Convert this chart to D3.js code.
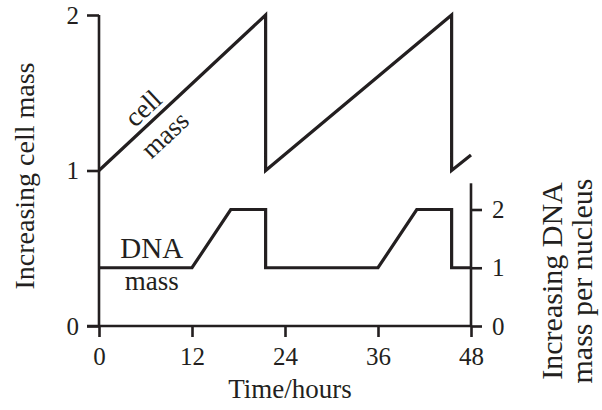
<!DOCTYPE html>
<html><head><meta charset="utf-8">
<script src="https://cdn.jsdelivr.net/npm/d3@7"></script>
<style>
body{margin:0;background:#fff;}
svg{display:block;}
</style></head>
<body>
<svg id="c" width="602" height="410"></svg>
<script>
// Data
const hourTicks = [0, 12, 24, 36, 48];
const cellTicks = [0, 1, 2];
const dnaTicks = [0, 1, 2];
const cellHours = [0, 21.5, 21.5, 45.5, 45.5, 48];
const cellMass  = [1, 2, 1, 2, 1, 1.1];
const dnaHours  = [0, 12, 17, 21.5, 21.5, 36, 41, 45.5, 45.5, 48];
const dnaMass   = [1, 1, 2, 2, 1, 1, 2, 2, 1, 1];

const FONT = "Liberation Serif, DejaVu Serif, serif";
const svg = d3.select("#c").attr("font-family", FONT);
const ink = "#231f20";
const x = d3.scaleLinear().domain([0, 48]).range([99, 471]);
const yL = d3.scaleLinear().domain([0, 2]).range([326, 15]);
const yR = d3.scaleLinear().domain([0, 2]).range([326, 209.5]);

const fs = 25;
const gL = svg.append("g").attr("transform", `translate(${x(0)},0)`)
  .call(d3.axisLeft(yL).tickValues(cellTicks).tickFormat(d3.format("d")).tickSize(12).tickPadding(8));
const gX = svg.append("g").attr("transform", `translate(0,${yL(0)})`)
  .call(d3.axisBottom(x).tickValues(hourTicks).tickSize(11).tickPadding(10));
const gR = svg.append("g").attr("transform", `translate(${x(48)},0)`)
  .call(d3.axisRight(yR).tickValues(dnaTicks).tickFormat(d3.format("d")).tickSize(11).tickPadding(10));
gR.select(".domain").remove();
gR.append("line").attr("x1",0).attr("x2",0).attr("y1",yR(2.45)).attr("y2",yR(0)).attr("stroke",ink).attr("stroke-width",2.6);

[gL, gX, gR].forEach(g => {
  g.attr("font-family", FONT).attr("font-size", fs);
  g.selectAll("text").attr("font-family", FONT).attr("font-size", fs).attr("fill", ink);
  g.selectAll("line").attr("stroke", ink).attr("stroke-width", 2.6);
  g.selectAll(".domain").attr("stroke", ink).attr("stroke-width", 2.6);
});
gL.select(".domain").attr("d", `M0,${yL(2)}V${yL(0)}`);
gX.select(".domain").attr("d", `M${x(0)-12},0H${x(48)}`);

const cellData = cellHours.map((h,i)=>[h, cellMass[i]]);
const dnaData = dnaHours.map((h,i)=>[h, dnaMass[i]]);
svg.append("path").attr("d", d3.line().x(d=>x(d[0])).y(d=>yL(d[1]))(cellData))
  .attr("fill","none").attr("stroke",ink).attr("stroke-width",3.2).attr("stroke-linejoin","miter");
svg.append("path").attr("d", d3.line().x(d=>x(d[0])).y(d=>yR(d[1]))(dnaData))
  .attr("fill","none").attr("stroke",ink).attr("stroke-width",3.2).attr("stroke-linejoin","miter");

function txt(){ return svg.append("text").attr("font-family", FONT).attr("fill", ink); }
const ang = Math.atan2(yL(1)-yL(2), x(21.5)-x(0)) * 180/Math.PI;
txt().attr("transform",`translate(${x(5.68)},${yL(1.40)}) rotate(${-ang})`)
  .attr("text-anchor","middle").attr("dominant-baseline","central").attr("font-size",27).text("cell");
txt().attr("transform",`translate(${x(8.5)},${yL(1.23)}) rotate(${-ang})`)
  .attr("text-anchor","middle").attr("dominant-baseline","central").attr("font-size",27).text("mass");
txt().attr("x",x(6.8)).attr("y",yR(1)-10).attr("text-anchor","middle").attr("font-size",29).text("DNA");
txt().attr("x",x(6.8)).attr("y",yR(1)+22).attr("text-anchor","middle").attr("font-size",27).text("mass");

txt().attr("transform","translate(34,176) rotate(-90)").attr("text-anchor","middle").attr("font-size",28).text("Increasing cell mass");
txt().attr("transform","translate(562,281) rotate(-90)").attr("text-anchor","middle").attr("font-size",30).text("Increasing DNA");
txt().attr("transform","translate(592,281) rotate(-90)").attr("text-anchor","middle").attr("font-size",30).text("mass per nucleus");
txt().attr("x",x(24)+5).attr("y",398).attr("text-anchor","middle").attr("font-size",27).text("Time/hours");
</script>
</body></html>
